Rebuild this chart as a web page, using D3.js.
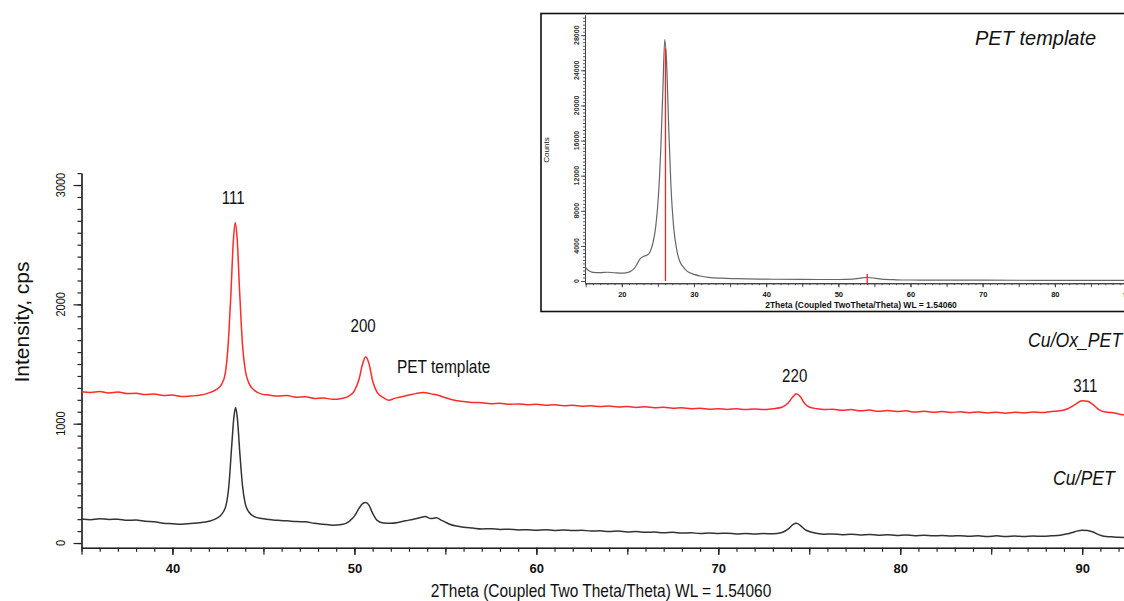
<!DOCTYPE html>
<html>
<head>
<meta charset="utf-8">
<script src="https://cdn.jsdelivr.net/npm/d3@7"></script>
<style>
  body { margin: 0; background: #fff; }
  svg { display: block; }
  text { font-family: "Liberation Sans", Arial, sans-serif; fill: #111; }
</style>
</head>
<body>
<svg width="1124" height="601"></svg>
<script>
// ---- data: [2theta, intensity] ----
const cuOxPet = [[35.0,1268],[35.5,1262],[36.0,1270],[36.5,1258],[37.0,1266],[37.5,1252],[38.0,1255],[38.5,1244],[39.0,1248],[39.5,1236],[40.0,1240],[40.5,1228],[41.0,1232],[41.5,1238],[42.0,1258],[42.4,1285],[42.7,1330],[42.9,1420],[43.05,1640],[43.2,2050],[43.35,2540],[43.45,2685],[43.55,2560],[43.7,2080],[43.85,1660],[44.0,1450],[44.2,1340],[44.5,1280],[44.9,1248],[45.3,1240],[45.8,1232],[46.3,1236],[46.8,1222],[47.3,1226],[47.8,1212],[48.3,1216],[48.8,1204],[49.3,1212],[49.7,1232],[50.0,1275],[50.25,1370],[50.45,1500],[50.62,1562],[50.8,1505],[51.0,1360],[51.25,1262],[51.6,1218],[51.9,1196],[52.2,1212],[52.6,1226],[53.0,1240],[53.4,1254],[53.8,1262],[54.2,1250],[54.6,1238],[55.0,1218],[55.5,1196],[56.0,1186],[56.5,1178],[57.0,1176],[57.5,1168],[58.0,1172],[58.5,1162],[59.0,1166],[59.5,1158],[60.0,1162],[60.5,1154],[61.0,1158],[61.5,1150],[62.0,1154],[62.5,1146],[63.0,1150],[63.5,1144],[64.0,1148],[64.5,1140],[65.0,1144],[65.5,1136],[66.0,1142],[66.5,1134],[67.0,1138],[67.5,1130],[68.0,1134],[68.5,1126],[69.0,1130],[69.5,1122],[70.0,1126],[70.5,1120],[71.0,1126],[71.5,1118],[72.0,1124],[72.5,1118],[73.0,1126],[73.5,1138],[73.85,1175],[74.1,1225],[74.3,1250],[74.5,1228],[74.75,1170],[75.0,1140],[75.4,1126],[75.8,1118],[76.3,1122],[76.8,1112],[77.3,1118],[77.8,1108],[78.3,1114],[78.8,1104],[79.3,1110],[79.8,1102],[80.3,1108],[80.8,1098],[81.3,1104],[81.8,1096],[82.3,1102],[82.8,1094],[83.3,1100],[83.8,1092],[84.3,1098],[84.8,1090],[85.3,1096],[85.8,1088],[86.3,1096],[86.8,1090],[87.3,1098],[87.8,1094],[88.3,1102],[88.8,1108],[89.2,1125],[89.6,1160],[90.0,1192],[90.3,1188],[90.6,1160],[90.9,1120],[91.2,1100],[91.6,1094],[92.0,1082],[92.3,1074]];

const cuPet = [[35.0,201],[35.5,196],[36.0,204],[36.5,198],[37.0,200],[37.5,190],[38.0,192],[38.5,182],[39.0,178],[39.5,166],[40.0,162],[40.5,158],[41.0,164],[41.5,170],[42.0,182],[42.4,205],[42.7,240],[42.95,320],[43.1,480],[43.25,800],[43.38,1060],[43.47,1135],[43.57,1040],[43.7,760],[43.85,480],[44.0,330],[44.2,260],[44.5,222],[44.9,205],[45.3,198],[45.8,190],[46.3,186],[46.8,180],[47.3,178],[47.8,165],[48.3,158],[48.8,150],[49.3,155],[49.7,180],[50.0,225],[50.25,290],[50.45,330],[50.62,340],[50.8,318],[51.0,250],[51.25,190],[51.6,168],[52.0,165],[52.4,172],[52.8,186],[53.2,198],[53.6,212],[53.9,222],[54.2,205],[54.5,212],[54.8,190],[55.2,160],[55.6,142],[56.0,132],[56.5,125],[57.0,118],[57.5,120],[58.0,114],[58.5,116],[59.0,110],[59.5,112],[60.0,108],[60.5,112],[61.0,106],[61.5,110],[62.0,104],[62.5,108],[63.0,100],[63.5,102],[64.0,96],[64.5,100],[65.0,92],[65.5,96],[66.0,90],[66.5,92],[67.0,86],[67.5,90],[68.0,84],[68.5,86],[69.0,80],[69.5,84],[70.0,80],[70.5,82],[71.0,76],[71.5,80],[72.0,75],[72.5,79],[73.0,78],[73.5,88],[73.85,118],[74.1,155],[74.3,165],[74.5,148],[74.75,115],[75.0,96],[75.4,82],[75.8,74],[76.3,76],[76.8,70],[77.3,74],[77.8,68],[78.3,72],[78.8,66],[79.3,70],[79.8,64],[80.3,68],[80.8,62],[81.3,66],[81.8,60],[82.3,64],[82.8,58],[83.3,62],[83.8,56],[84.3,60],[84.8,54],[85.3,60],[85.8,54],[86.3,58],[86.8,54],[87.3,58],[87.8,56],[88.3,60],[88.8,66],[89.2,78],[89.6,95],[90.0,108],[90.3,106],[90.6,92],[90.9,70],[91.2,56],[91.6,52],[92.0,48],[92.3,46]];

// inset: PET template alone
const petTemplate = [[14.9,1600],[15.3,1250],[15.7,1050],[16,990],[17,960],[18,1000],[19,940],[20,900],[20.7,960],[21.2,1100],[21.7,1400],[22.1,1900],[22.5,2500],[23,2800],[23.5,2950],[23.9,3300],[24.3,4300],[24.7,6200],[25.1,10000],[25.4,15000],[25.7,22000],[25.95,27500],[26.2,25000],[26.5,17500],[26.8,11000],[27.2,6000],[27.6,3600],[28,2300],[28.5,1600],[29,1150],[30,750],[31,540],[32,420],[34,320],[36,260],[40,210],[45,180],[50,170],[52,220],[53,320],[54,400],[55,330],[56,210],[58,140],[60,115],[65,100],[70,92],[75,86],[80,80],[85,76],[90,72]];
const refLines = [[26.05, 26500], [54.0, 800]];

// labels
const hklText = ["111", "200", "220", "311"];
const hklTheta = [43.34, 50.48, 74.2, 90.17];
const hklY = [2842, 1769, 1350, 1266];
const seriesNames = ["Cu/Ox_PET", "Cu/PET"];
const seriesTheta = [87.03, 88.4];
const seriesLabelY = [1643, 486];
const seriesColors = ["#ff2a2a", "#333333"];

const xTicks = [40, 50, 60, 70, 80, 90];
const yTicks = [0, 1000, 2000, 3000];
const insetXTicks = [20, 30, 40, 50, 60, 70, 80, 90];
const insetYTicks = [0, 4000, 8000, 12000, 16000, 20000, 24000, 28000];

// the figure text is a condensed face, so squeeze it horizontally
const squeeze = 0.84;

const svg = d3.select("svg");

// ---- main plot scales ----
const x = d3.scaleLinear().domain([35, 92.3]).range([81.5, 1124]);
const y = d3.scaleLinear().domain([-40, 3100]).range([547.8, 173.1]);

const line = d3.line()
  .x(d => x(d[0]))
  .y(d => y(d[1]))
  .curve(d3.curveMonotoneX);

// x axis: minor, medium and major ticks
const xAxisG = svg.append("g").attr("transform", `translate(0,${y(-40)})`);
xAxisG.append("g")
  .call(d3.axisBottom(x).tickValues(d3.range(35, 93, 1)).tickSize(4).tickFormat("").tickSizeOuter(0));
xAxisG.append("g")
  .call(d3.axisBottom(x).tickValues(d3.range(35, 93, 5)).tickSize(7).tickFormat("").tickSizeOuter(0));
xAxisG.append("g")
  .call(d3.axisBottom(x).tickValues(xTicks).tickSize(7).tickPadding(9).tickSizeOuter(0))
  .selectAll("text")
  .style("font-size", "13px")
  .style("font-weight", "bold");
xAxisG.selectAll("path, line").attr("stroke", "#222").attr("stroke-width", 1.2);

// y axis
const yAxisG = svg.append("g").attr("transform", `translate(${x(35)},0)`);
yAxisG.append("g")
  .call(d3.axisLeft(y).tickValues(d3.range(0, 3101, 100)).tickSize(4).tickFormat("").tickSizeOuter(0));
yAxisG.append("g")
  .call(d3.axisLeft(y).tickValues(yTicks).tickSize(8).tickFormat("").tickSizeOuter(0));
yAxisG.selectAll("path, line").attr("stroke", "#222").attr("stroke-width", 1.2);

svg.append("g")
  .selectAll("text")
  .data(yTicks)
  .join("text")
  .attr("transform", d => `translate(60,${y(d)}) rotate(-90) scale(${squeeze},1)`)
  .attr("text-anchor", "middle")
  .attr("dy", "0.35em")
  .style("font-size", "13px")
  .text(d => d);

// axis titles
svg.append("text")
  .attr("transform", "translate(29,322) rotate(-90)")
  .attr("text-anchor", "middle")
  .style("font-size", "21px")
  .text("Intensity, cps");

svg.append("text")
  .attr("transform", `translate(601,597) scale(0.86,1)`)
  .attr("text-anchor", "middle")
  .style("font-size", "18px")
  .text("2Theta (Coupled Two Theta/Theta) WL = 1.54060");

// the two patterns
const data = [cuOxPet, cuPet];
svg.append("g")
  .selectAll("path")
  .data(data)
  .join("path")
  .attr("fill", "none")
  .attr("stroke", (d, i) => seriesColors[i])
  .attr("stroke-width", 1.5)
  .attr("d", line);

// peak indices
svg.append("g")
  .selectAll("text")
  .data(hklText)
  .join("text")
  .attr("transform", (d, i) => `translate(${x(hklTheta[i])},${y(hklY[i])}) scale(${squeeze},1)`)
  .attr("text-anchor", "middle")
  .style("font-size", "18px")
  .text(d => d);

svg.append("text")
  .attr("transform", `translate(${x(52.34)},${y(1425)}) scale(0.86,1)`)
  .style("font-size", "18px")
  .text("PET template");

// series names
svg.append("g")
  .selectAll("text")
  .data(seriesNames)
  .join("text")
  .attr("transform", (d, i) => `translate(${x(seriesTheta[i])},${y(seriesLabelY[i])}) scale(${squeeze},1)`)
  .style("font-size", "21px")
  .style("font-style", "italic")
  .text(d => d);

// ---- inset ----
const inset = svg.append("g").attr("class", "inset");
inset.append("rect")
  .attr("x", 541).attr("y", 13.5)
  .attr("width", 600).attr("height", 298)
  .attr("fill", "#fff")
  .attr("stroke", "#111")
  .attr("stroke-width", 1.6);

const ix = d3.scaleLinear().domain([14.9, 90]).range([585, 1127]);
const iy = d3.scaleLinear().domain([-250, 30300]).range([283.2, 15]);

const ixAxis = inset.append("g").attr("transform", `translate(0,${iy(-250)})`);
ixAxis.append("g")
  .call(d3.axisBottom(ix).tickValues(d3.range(15, 91, 1)).tickSize(2).tickFormat("").tickSizeOuter(0));
ixAxis.append("g")
  .call(d3.axisBottom(ix).tickValues(d3.range(15, 91, 5)).tickSize(4).tickFormat("").tickSizeOuter(0));
ixAxis.append("g")
  .call(d3.axisBottom(ix).tickValues(insetXTicks).tickSize(4).tickPadding(4).tickSizeOuter(0))
  .selectAll("text")
  .style("font-size", "7.5px")
  .style("font-weight", "bold");
ixAxis.selectAll("path, line").attr("stroke", "#444").attr("stroke-width", 0.9);

const iyAxis = inset.append("g").attr("transform", `translate(${ix(14.9)},0)`);
iyAxis.append("g")
  .call(d3.axisLeft(iy).tickValues(d3.range(0, 30001, 400)).tickSize(2).tickFormat("").tickSizeOuter(0));
iyAxis.append("g")
  .call(d3.axisLeft(iy).tickValues(insetYTicks).tickSize(4).tickFormat("").tickSizeOuter(0));
iyAxis.selectAll("path, line").attr("stroke", "#444").attr("stroke-width", 0.9);

inset.append("g")
  .selectAll("text")
  .data(insetYTicks)
  .join("text")
  .attr("transform", d => `translate(577,${iy(d)}) rotate(-90)`)
  .attr("text-anchor", "middle")
  .attr("dy", "0.35em")
  .style("font-size", "7px")
  .style("font-weight", "bold")
  .style("fill", "#333")
  .text(d => d);

inset.append("text")
  .attr("transform", "translate(549,150) rotate(-90)")
  .attr("text-anchor", "middle")
  .style("font-size", "8px")
  .text("Counts");

inset.append("text")
  .attr("x", 861)
  .attr("y", 308)
  .attr("text-anchor", "middle")
  .style("font-size", "8.5px")
  .style("font-weight", "bold")
  .text("2Theta (Coupled TwoTheta/Theta) WL = 1.54060");

inset.append("path")
  .datum(petTemplate)
  .attr("fill", "none")
  .attr("stroke", "#666")
  .attr("stroke-width", 1.2)
  .attr("d", d3.line().x(d => ix(d[0])).y(d => iy(d[1])).curve(d3.curveMonotoneX));

inset.append("g")
  .selectAll("line")
  .data(refLines)
  .join("line")
  .attr("x1", d => ix(d[0])).attr("x2", d => ix(d[0]))
  .attr("y1", d => iy(d[1])).attr("y2", d => iy(d[0] > 50 ? -250 : 0))
  .attr("stroke", "#ff2020")
  .attr("stroke-width", 1.3);

inset.append("text")
  .attr("x", 975)
  .attr("y", 45)
  .style("font-size", "20px")
  .style("font-style", "italic")
  .text("PET template");
</script>
</body>
</html>
